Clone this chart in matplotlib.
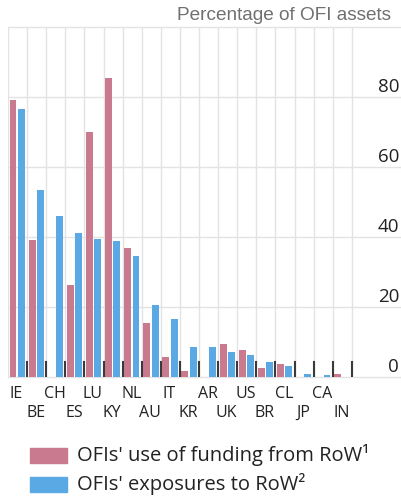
import matplotlib
matplotlib.use('Agg')
import matplotlib.pyplot as plt
from matplotlib.patches import Rectangle

# Values (percentage of OFI assets)
countries = ['IE', 'BE', 'CH', 'ES', 'LU', 'KY', 'NL', 'AU', 'IT',
             'KR', 'AR', 'UK', 'US', 'BR', 'CL', 'JP', 'CA', 'IN']
funding_row = [79.1, 39.1, 0.0, 26.3, 69.9, 85.3, 36.9, 15.3, 5.8,
               1.8, 0.0, 9.3, 7.7, 2.5, 3.6, 0.0, 0.0, 1.0]
exposures_row = [76.6, 53.4, 46.1, 41.2, 39.4, 38.9, 34.6, 20.6, 16.6,
                 8.7, 8.6, 7.2, 6.3, 4.4, 3.1, 1.0, 0.5, 0.0]
y_ticks = [0, 20, 40, 60, 80]

PINK = '#C97A8E'
BLUE = '#5BA9E4'
GRID = '#E3E3E3'
TICK = '#3A3A3A'
FONT = 'Open Sans'

W, H = 401, 497
fig = plt.figure(figsize=(W / 100, H / 100), dpi=100)

# axes placed in pixels: left 8, right 401, zero at 377, top (100) at 27
ax = fig.add_axes([8 / W, (H - 377) / H, 393 / W, 350 / H])
step = 19.1
ax.set_xlim(0, 393 / step)
ax.set_ylim(0, 100)
ax.axis('off')

n = len(countries)
xs = list(range(n))

# gridlines
for v in [0, 20, 40, 60, 80, 100]:
    ax.plot([0, 393 / step], [v, v], color=GRID, lw=1.0, zorder=0, clip_on=False)
for b in range(n + 1):
    ax.plot([b, b], [0, 100], color=GRID, lw=1.0, zorder=0)

# bars
ax.bar([x + 0.26 for x in xs], funding_row, width=0.36, color=PINK, zorder=2)
ax.bar([x + 0.70 for x in xs], exposures_row, width=0.36, color=BLUE, zorder=2)

# short category separators along the baseline
for b in range(1, n + 1):
    ax.plot([b, b], [0, 4.3], color=TICK, lw=1.5, zorder=3)

# y labels on the right, sitting above the gridlines
for v in y_ticks:
    ax.text(0.995, v + 3.0, str(v), transform=ax.get_yaxis_transform(),
            ha='right', va='center', fontsize=13.5, family=FONT, color='#222222')

# staggered country labels
for i, c in enumerate(countries):
    yy = -4.9 if i % 2 == 0 else -10.3
    ax.text(i + 0.45, yy, c, ha='center', va='center', fontsize=11.5,
            family=FONT, color='#222222', clip_on=False)

# header
fig.text(391 / W, 1 - 15 / H, 'Percentage of OFI assets', ha='right', va='center',
         fontsize=13.7, family='Liberation Sans', color='#707070')

# legend
legend_items = [('OFIs\' use of funding from RoW\u00b9', PINK, 455),
                ('OFIs\' exposures to RoW\u00b2', BLUE, 484)]
for label, col, yc in legend_items:
    fig.add_artist(Rectangle((30 / W, 1 - (yc + 7.5) / H), 37 / W, 15 / H,
                             transform=fig.transFigure, color=col))
    fig.text(77 / W, 1 - yc / H, label, ha='left', va='center', fontsize=14.5,
             family=FONT, color='#222222')

fig.savefig('out.png', dpi=100)
plt.close(fig)
